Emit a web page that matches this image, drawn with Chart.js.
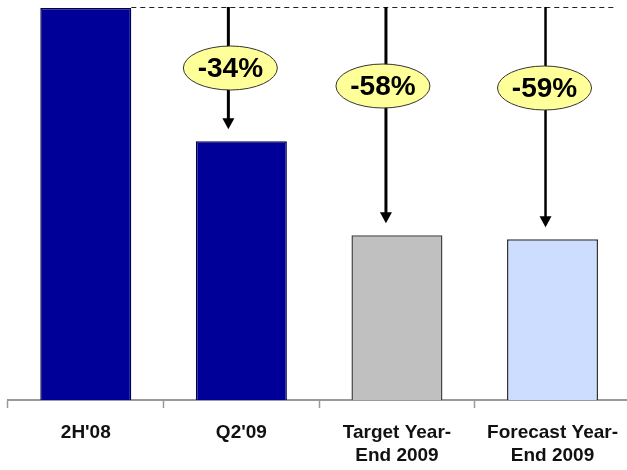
<!DOCTYPE html>
<html>
<head>
<meta charset="utf-8">
<script src="https://cdn.jsdelivr.net/npm/chart.js@4/dist/chart.umd.min.js"></script>
<style>
  html, body { margin: 0; padding: 0; background: #fff; overflow: hidden; }
  canvas { display: block; }
</style>
</head>
<body>
<canvas id="cuts" width="631" height="470"></canvas>
<script>
// spending index, 2H'08 = 100
const periods = [["2H'08"], ["Q2'09"], ["Target Year-", "End 2009"], ["Forecast Year-", "End 2009"]];
const levels = [100, 66, 42, 41];
const fills = ['#000099', '#000099', '#C0C0C0', '#CCDDFF'];
const borders = ['#000055', '#000055', '#444444', '#333333'];

// drop arrows + yellow ovals with the % change from the first bar
const dropCallouts = {
  id: 'dropCallouts',
  afterDatasetsDraw(chart, args, opts) {
    const ctx = chart.ctx;
    const bars = chart.getDatasetMeta(0).data;
    const yTop = chart.scales.y.getPixelForValue(levels[0]);

    // dashed reference line at the starting level
    ctx.save();
    ctx.strokeStyle = '#222';
    ctx.lineWidth = 1;
    ctx.setLineDash([5, 4]);
    ctx.beginPath();
    ctx.moveTo(bars[0].x + bars[0].width / 2, yTop - 0.5);
    ctx.lineTo(opts.lineEnd, yTop - 0.5);
    ctx.stroke();
    ctx.restore();

    for (let i = 1; i < bars.length; i++) {
      const bar = bars[i];
      const x = bar.x + opts.shift[i];
      const tip = bar.y - 12;
      const pct = Math.round((levels[i] / levels[0] - 1) * 100);

      ctx.save();
      ctx.strokeStyle = '#000';
      ctx.fillStyle = '#000';
      ctx.lineWidth = opts.shaft[i];
      ctx.beginPath();
      ctx.moveTo(x, yTop - 1);
      ctx.lineTo(x, tip - 10);
      ctx.stroke();
      ctx.beginPath();
      ctx.moveTo(x - 6, tip - 11);
      ctx.lineTo(x + 6, tip - 11);
      ctx.lineTo(x, tip);
      ctx.closePath();
      ctx.fill();

      const ox = x + opts.ovalDx[i];
      const cy = opts.ovalY[i];
      ctx.beginPath();
      ctx.ellipse(ox, cy, 47, 22, 0, 0, Math.PI * 2);
      ctx.fillStyle = '#FFFF99';
      ctx.fill();
      ctx.lineWidth = 1;
      ctx.strokeStyle = '#333';
      ctx.stroke();

      ctx.fillStyle = '#000';
      ctx.font = 'bold 28px "Liberation Sans", Arial, sans-serif';
      ctx.textAlign = 'center';
      ctx.textBaseline = 'middle';
      ctx.fillText(pct + '%', ox, cy + 1);
      ctx.restore();
    }
  }
};

new Chart(document.getElementById('cuts'), {
  type: 'bar',
  data: {
    labels: periods,
    datasets: [{
      data: levels,
      backgroundColor: fills,
      borderColor: borders,
      borderWidth: 1.5,
      borderSkipped: 'bottom',
      categoryPercentage: 1,
      barPercentage: 0.585
    }]
  },
  options: {
    responsive: false,
    animation: false,
    layout: { padding: { top: 8, left: 8, right: 0, bottom: -10 } },
    plugins: {
      legend: { display: false },
      tooltip: { enabled: false },
      dropCallouts: {
        shift: [0, -13, -11, -7],
        shaft: [0, 3, 3, 2.5],
        ovalDx: [0, 2, -3, -1],
        ovalY: [0, 68, 86, 88],
        lineEnd: 615
      }
    },
    scales: {
      x: {
        offset: true,
        grid: {
          offset: true,
          drawOnChartArea: false,
          tickLength: 8,
          tickColor: '#999',
          tickWidth: 1.5
        },
        border: { color: '#999', width: 2 },
        ticks: {
          color: '#111',
          padding: 13,
          maxRotation: 0,
          autoSkip: false,
          font: { family: '"Liberation Sans", Arial, sans-serif', size: 19, weight: 'bold', lineHeight: '23px' }
        }
      },
      y: {
        display: false,
        min: 0,
        max: 100
      }
    }
  },
  plugins: [dropCallouts]
});
</script>
</body>
</html>
